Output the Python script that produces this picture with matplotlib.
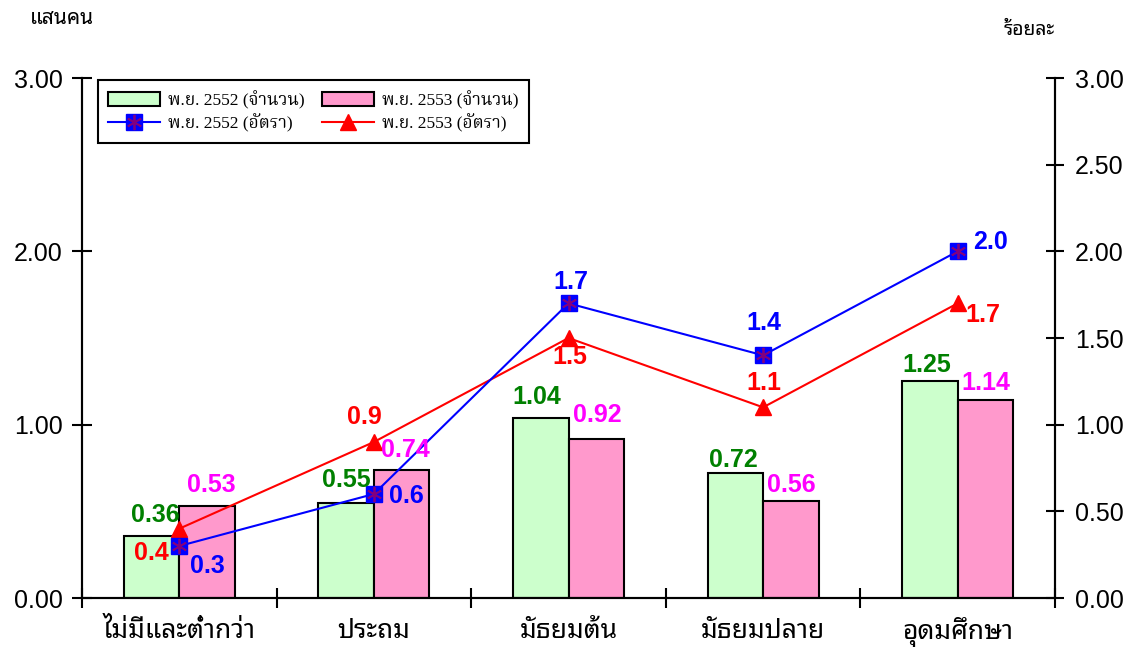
import matplotlib
matplotlib.use("Agg")
import matplotlib.pyplot as plt
from matplotlib.lines import Line2D
from matplotlib.patches import Patch
from matplotlib.ticker import FixedLocator

categories = ["ไม่มีและต่ำกว่า", "ประถม", "มัธยมต้น", "มัธยมปลาย", "อุดมศึกษา"]
count_2552 = [0.36, 0.55, 1.04, 0.72, 1.25]   # แสนคน
count_2553 = [0.53, 0.74, 0.92, 0.56, 1.14]
rate_2552 = [0.3, 0.6, 1.7, 1.4, 2.0]         # ร้อยละ
rate_2553 = [0.4, 0.9, 1.5, 1.1, 1.7]
yticks_left = [0.0, 1.0, 2.0, 3.0]
yticks_right = [0.0, 0.5, 1.0, 1.5, 2.0, 2.5, 3.0]
legend_labels = ["พ.ย. 2552 (จำนวน)", "พ.ย. 2552 (อัตรา)", "พ.ย. 2553 (จำนวน)", "พ.ย. 2553 (อัตรา)"]

# label offsets in pixels (dx, dy) from the mark they belong to
off_c52 = [(4, 21), (0, 23), (-4, 21), (-2, 13), (-3, 16)]
off_c53 = [(4, 21), (4, 20), (1, 24), (0, 16), (0, 17)]
off_r52 = [(28, -20), (32, -2), (2, 21), (1, 32), (33, 9)]
off_r53 = [(-28, -24), (-10, 25), (1, -19), (1, 24), (25, -12)]

GREEN_FILL, PINK_FILL = "#CCFFCC", "#FF99CC"
BLUE, RED, PURPLE = "#0000FF", "#FF0000", "#800080"
THAI_SANS = ["Noto Sans Thai Looped", "DejaVu Sans"]
THAI_SERIF = ["Liberation Serif", "Noto Serif Thai", "DejaVu Serif"]
NUM = ["Liberation Sans", "DejaVu Sans"]
ASTER = (6, 2, 0)

fig = plt.figure(figsize=(11.35, 6.52), dpi=100)
ax = fig.add_axes([82 / 1135, 1 - 598 / 652, 973 / 1135, 520 / 652])
ax2 = ax.twinx()

x = list(range(len(categories)))
w = 0.285
ax.bar([i - w / 2 for i in x], count_2552, width=w, color=GREEN_FILL, edgecolor="black", linewidth=1.5, zorder=2)
ax.bar([i + w / 2 for i in x], count_2553, width=w, color=PINK_FILL, edgecolor="black", linewidth=1.5, zorder=2)

ax2.plot(x, rate_2553, color=RED, lw=1.5, marker="^", ms=11.5, mfc=RED, mec=RED, zorder=3)
ax2.plot(x, rate_2552, color=BLUE, lw=1.5, marker="s", ms=11.5, mfc=BLUE, mec=BLUE, zorder=4)
ax2.plot(x, rate_2552, ls="none", marker=ASTER, ms=11, mec=PURPLE, mew=1.3, zorder=5)

for ax_ in (ax, ax2):
    ax_.set_xlim(-0.5, 4.5)
    ax_.set_ylim(0, 3)
    ax_.spines["top"].set_visible(False)
    for s in ax_.spines.values():
        s.set_linewidth(1.5)

ax.set_yticks(yticks_left)
ax.set_yticklabels([f"{v:.2f}" for v in yticks_left], family=NUM, fontsize=18)
ax2.set_yticks(yticks_right)
ax2.set_yticklabels([f"{v:.2f}" for v in yticks_right], family=NUM, fontsize=18)
ax.tick_params(axis="y", direction="inout", length=14, width=1.5, pad=7)
ax2.tick_params(axis="y", direction="inout", length=13, width=1.5, pad=8)

ax.set_xticks(x)
ax.set_xticklabels(categories, family=THAI_SANS, fontsize=19)
ax.tick_params(axis="x", which="major", length=0, pad=14)
ax.xaxis.set_minor_locator(FixedLocator([i - 0.5 for i in range(len(categories) + 1)]))
ax.tick_params(axis="x", which="minor", direction="inout", length=14, width=1.5)
ax2.tick_params(axis="x", which="both", length=0)

bold = dict(family=NUM, fontsize=18, fontweight="bold", ha="center", va="center",
            textcoords="offset pixels", zorder=6)
for i, v in enumerate(count_2552):
    ax2.annotate(f"{v:.2f}", (i - w / 2, v), xytext=off_c52[i], color="#008000", **bold)
for i, v in enumerate(count_2553):
    ax2.annotate(f"{v:.2f}", (i + w / 2, v), xytext=off_c53[i], color="#FF00FF", **bold)
for i, v in enumerate(rate_2552):
    ax2.annotate(f"{v:.1f}", (i, v), xytext=off_r52[i], color=BLUE, **bold)
for i, v in enumerate(rate_2553):
    ax2.annotate(f"{v:.1f}", (i, v), xytext=off_r53[i], color=RED, **bold)

fig.text(30 / 1135, 1 - 18 / 652, "แสนคน", family=THAI_SANS, fontsize=15, va="center", ha="left")
fig.text(1055 / 1135, 1 - 30 / 652, "ร้อยละ", family=THAI_SANS, fontsize=14, va="center", ha="right")

h_g = Patch(facecolor=GREEN_FILL, edgecolor="black", linewidth=1.5)
h_p = Patch(facecolor=PINK_FILL, edgecolor="black", linewidth=1.5)
h_b = (Line2D([], [], color=BLUE, lw=1.5, marker="s", ms=11.5, mfc=BLUE, mec=BLUE),
       Line2D([], [], ls="none", marker=ASTER, ms=11, mec=PURPLE, mew=1.3))
h_r = Line2D([], [], color=RED, lw=1.5, marker="^", ms=11.5, mfc=RED, mec=RED)
leg = ax2.legend([h_g, h_b, h_p, h_r], legend_labels, ncol=2, loc="upper left",
                 bbox_to_anchor=(0.0164, 0.996), prop=dict(family=THAI_SERIF, size=12.5),
                 frameon=True, fancybox=False, framealpha=1, edgecolor="black",
                 handlelength=3.0, handleheight=0.9, labelspacing=0.3, columnspacing=1.0,
                 handletextpad=0.45, borderpad=0.6, borderaxespad=0)
leg.get_frame().set_linewidth(1.5)
leg.set_zorder(10)

fig.savefig("out.png", dpi=100)
